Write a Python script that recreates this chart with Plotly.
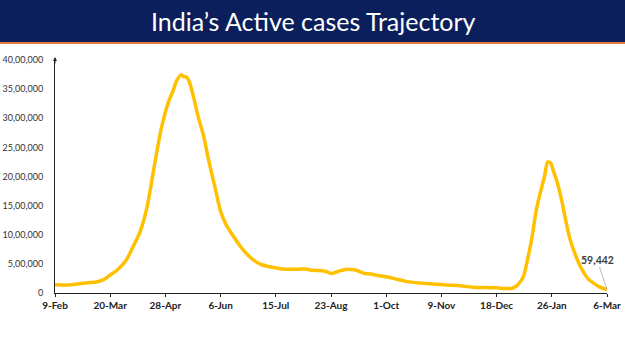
import plotly.graph_objects as go

dates = ["2021-02-09","2021-02-20","2021-03-01","2021-03-10","2021-03-15","2021-03-20","2021-03-25","2021-03-31",
         "2021-04-05","2021-04-10","2021-04-15","2021-04-20","2021-04-25","2021-04-30","2021-05-03","2021-05-06",
         "2021-05-09","2021-05-11","2021-05-13","2021-05-15","2021-05-18","2021-05-21","2021-05-25","2021-05-28",
         "2021-05-31","2021-06-03","2021-06-06","2021-06-10","2021-06-15","2021-06-20","2021-06-25","2021-06-30",
         "2021-07-05","2021-07-10","2021-07-15","2021-07-20","2021-07-25","2021-07-31","2021-08-05","2021-08-10",
         "2021-08-15","2021-08-20","2021-08-23","2021-08-28","2021-09-02","2021-09-06","2021-09-10","2021-09-15",
         "2021-09-20","2021-09-25","2021-10-01","2021-10-08","2021-10-15","2021-10-22","2021-11-01","2021-11-09",
         "2021-11-15","2021-11-22","2021-12-01","2021-12-10","2021-12-18","2021-12-25","2021-12-29","2022-01-01",
         "2022-01-03","2022-01-06","2022-01-09","2022-01-12","2022-01-15","2022-01-18","2022-01-21","2022-01-23",
         "2022-01-25","2022-01-27","2022-01-30","2022-02-02","2022-02-05","2022-02-08","2022-02-11","2022-02-15",
         "2022-02-18","2022-02-21","2022-02-25","2022-03-01","2022-03-06"]
active_lakh = [1.43,1.40,1.68,1.89,2.24,3.09,3.95,5.52,
               7.88,10.46,14.71,21.57,28.13,32.68,34.47,36.45,
               37.45,37.15,37.05,36.18,33.53,30.40,26.95,23.43,
               20.20,17.10,14.01,11.67,9.73,7.98,6.57,5.52,
               4.85,4.55,4.31,4.11,4.06,4.08,4.13,3.89,
               3.85,3.64,3.34,3.70,4.05,4.05,3.90,3.40,
               3.25,3.00,2.80,2.40,2.00,1.78,1.58,1.44,
               1.34,1.24,1.00,0.95,0.88,0.77,0.82,1.20,
               1.71,2.85,5.90,9.55,14.18,17.36,20.18,22.49,
               22.36,21.05,18.84,15.91,12.25,9.12,6.97,4.62,
               3.33,2.36,1.61,1.00,0.59442]
active = [v * 100000 for v in active_lakh]

x_tickvals = ["2021-02-09","2021-03-20","2021-04-28","2021-06-06","2021-07-15","2021-08-23",
              "2021-10-01","2021-11-09","2021-12-18","2022-01-26","2022-03-06"]
x_ticktext = ["9-Feb","20-Mar","28-Apr","6-Jun","15-Jul","23-Aug","1-Oct","9-Nov","18-Dec","26-Jan","6-Mar"]
y_tickvals = [0,500000,1000000,1500000,2000000,2500000,3000000,3500000,4000000]
y_ticktext = ["0","5,00,000","10,00,000","15,00,000","20,00,000","25,00,000","30,00,000","35,00,000","40,00,000"]
title = "India’s Active cases Trajectory"
last_label = "59,442"

W, H = 625, 351
L, R, T, B = 55, 18, 60, 58
pw, ph = W - L - R, H - T - B
def px(xp):  # pixel x -> paper
    return (xp - L) / pw
def py(yp):  # pixel y (from top) -> paper
    return 1 - (yp - T) / ph

fig = go.Figure()
fig.add_trace(go.Scatter(x=dates, y=active, mode="lines",
                         line=dict(color="#FFC000", width=3.5, shape="spline", smoothing=0.7),
                         hoverinfo="skip"))

fig.update_layout(
    width=W, height=H, margin=dict(l=L, r=R, t=T, b=B, autoexpand=False),
    paper_bgcolor="white", plot_bgcolor="white", showlegend=False,
    font=dict(family="Lato, Open Sans, sans-serif", color="#333333"),
    xaxis=dict(type="date", range=["2021-02-09", "2022-03-06"], tickvals=x_tickvals, automargin=False,
               ticktext=["<b>%s</b>" % t for t in x_ticktext], tickfont=dict(size=10, color="#222"),
               showgrid=False, zeroline=False, showline=True, linecolor="#222", linewidth=1,
               ticks="outside", ticklen=3, tickcolor="#222"),
    yaxis=dict(range=[0, 4000000], tickvals=y_tickvals, ticktext=y_ticktext, automargin=False,
               tickfont=dict(size=9, color="#333", family="Lato, sans-serif"),
               showgrid=False, zeroline=False,
               showline=True, linecolor="#222", linewidth=1, ticks="", ticklabelstandoff=9),
)

# title bar
fig.add_shape(type="rect", xref="paper", yref="paper", x0=px(0), x1=px(W), y0=py(42), y1=py(0),
              fillcolor="#0B1F5C", line=dict(width=0), layer="below")
fig.add_shape(type="rect", xref="paper", yref="paper", x0=px(0), x1=px(W), y0=py(44), y1=py(42),
              fillcolor="#E8793F", line=dict(width=0), layer="below")
fig.add_annotation(xref="paper", yref="paper", x=px(313), y=py(21), text=title, showarrow=False,
                   font=dict(family="Lato, sans-serif", size=25, color="white"),
                   xanchor="center", yanchor="middle")

# y-axis arrowhead
fig.add_annotation(xref="paper", yref="paper", x=0, y=py(57), ax=0, ay=8, axref="pixel", ayref="pixel",
                   text="", showarrow=True, arrowhead=2, arrowsize=0.8, arrowwidth=1, arrowcolor="#222")

# last value label
fig.add_annotation(x=dates[-1], y=active[-1], text="<b>%s</b>" % last_label, showarrow=True,
                   arrowhead=0, arrowwidth=0.7, arrowcolor="#999", ax=-10, ay=-30,
                   font=dict(size=10.5, color="#404040"))

fig.write_html("out.html")
